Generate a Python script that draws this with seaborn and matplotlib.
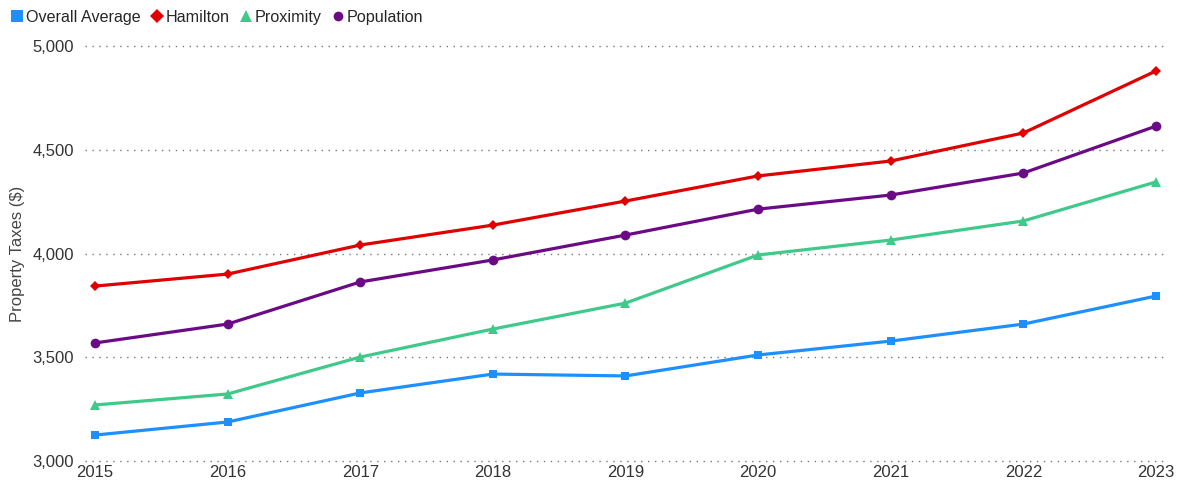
import pandas as pd
import matplotlib.pyplot as plt
import seaborn as sns
from matplotlib.ticker import FuncFormatter
from matplotlib.lines import Line2D

years = [2015, 2016, 2017, 2018, 2019, 2020, 2021, 2022, 2023]
overall_average = [3125, 3188, 3328, 3419, 3410, 3511, 3578, 3660, 3795]
hamilton = [3843, 3901, 4041, 4137, 4253, 4374, 4446, 4581, 4880]
proximity = [3270, 3323, 3501, 3636, 3761, 3993, 4065, 4157, 4345]
population = [3569, 3660, 3863, 3969, 4089, 4214, 4282, 4388, 4614]

series_names = ['Overall Average', 'Hamilton', 'Proximity', 'Population']
colors = ['#1E8FFF', '#E00000', '#3FC98A', '#6B0A85']
markers = ['s', 'D', '^', 'o']
marker_sizes = [6, 5, 7, 7]

df = pd.DataFrame({
    'Year': years * 4,
    'Taxes': overall_average + hamilton + proximity + population,
    'Series': sum([[n] * len(years) for n in series_names], []),
})

sns.set_style('white')
plt.rcParams['font.family'] = ['Liberation Sans', 'DejaVu Sans']

fig = plt.figure(figsize=(11.81, 4.87), dpi=100)
ax = fig.add_axes([0.072, 0.0534, 0.916, 0.852])

for name, color, marker, ms in zip(series_names, colors, markers, marker_sizes):
    sub = df[df['Series'] == name]
    sns.lineplot(data=sub, x='Year', y='Taxes', ax=ax, color=color, linewidth=2.3,
                 marker=marker, markersize=ms, markeredgewidth=0, legend=False)

ax.set_ylim(3000, 5000)
ax.set_yticks([3000, 3500, 4000, 4500, 5000])
ax.yaxis.set_major_formatter(FuncFormatter(lambda v, p: f'{int(v):,}'))
ax.set_xlim(2015 - 0.075, 2023 + 0.082)
ax.set_xticks(years)
ax.grid(axis='y', color='#777777', linestyle=(0, (1, 4)), linewidth=1, clip_on=False)
ax.set_axisbelow(True)
for s in ax.spines.values():
    s.set_visible(False)
ax.tick_params(axis='both', length=0, labelsize=12, colors='#333333')
ax.tick_params(axis='y', pad=8)
ax.tick_params(axis='x', pad=3)
ax.set_xlabel('')
ax.set_ylabel('Property Taxes ($)', fontsize=12, color='#444444', labelpad=5)

handles = [Line2D([], [], linestyle='none', marker=m, color=c, markersize=ms, markeredgewidth=0)
           for m, c, ms in zip(markers, colors, [8, 7, 8.5, 7])]
fig.legend(handles, series_names, loc='upper left', bbox_to_anchor=(0.001, 1.0), ncol=4,
           frameon=False, fontsize=11.6, handletextpad=0.15, columnspacing=0.6,
           handlelength=0.8, borderaxespad=0.2)

fig.savefig('out.png', dpi=100)
